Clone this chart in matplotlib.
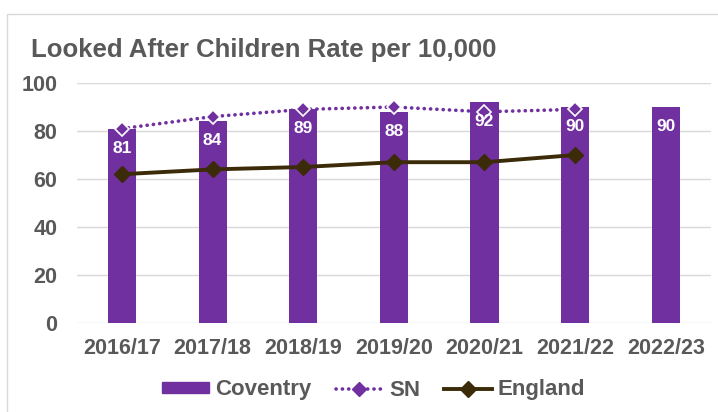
import matplotlib
matplotlib.use("Agg")
import matplotlib.pyplot as plt
from matplotlib.patches import Rectangle
from matplotlib.lines import Line2D
import numpy as np

plt.rcParams['font.family'] = ['Liberation Sans', 'DejaVu Sans']

years = ["2016/17", "2017/18", "2018/19", "2019/20", "2020/21", "2021/22", "2022/23"]
coventry = [81, 84, 89, 88, 92, 90, 90]
sn = [81, 86, 89, 90, 88, 89]
england = [62, 64, 65, 67, 67, 70]

title = "Looked After Children Rate per 10,000"
gray = "#595959"
purple = "#7030A0"
dark = "#3B2B08"

W, H = 718, 412
fig = plt.figure(figsize=(W / 100, H / 100), dpi=100)

# outer chart border (cropped on the right/bottom)
fig.patches.append(Rectangle((7 / W, -0.2), 1.2, 1.2 - 14 / H,
                             transform=fig.transFigure, fill=False,
                             edgecolor="#D9D9D9", linewidth=1.0, zorder=0))

left_px, right_px = 76.7, 711.0
top_px, bottom_px = 83.0, 323.0
ax = fig.add_axes([left_px / W, 1 - bottom_px / H,
                   (right_px - left_px) / W, (bottom_px - top_px) / H])

x = np.arange(len(years))
ax.bar(x, coventry, width=0.31, color=purple, zorder=2)

dot_style = (0, (0.05, 1.7))
xs = np.arange(len(sn))
ax.plot(xs, sn, linestyle=dot_style, linewidth=2.6, color=purple,
        dash_capstyle="round",
        marker="D", markersize=7.5, markerfacecolor=purple,
        markeredgecolor="white", markeredgewidth=1.2, zorder=4)
ax.plot(np.arange(len(england)), england, linestyle="-", linewidth=2.8,
        color=dark, marker="D", markersize=8, markerfacecolor=dark,
        markeredgecolor=dark, zorder=5)

for xi, v in zip(x, coventry):
    ax.annotate(f"{v}", (xi, v), xytext=(0, -14), textcoords="offset points",
                ha="center", va="center", color="white", fontsize=12.5,
                fontweight="bold", zorder=6)

ax.set_xlim(-0.5, len(years) - 0.5)
ax.set_ylim(0, 100)
ax.set_yticks([0, 20, 40, 60, 80, 100])
ax.set_xticks(x)
ax.set_xticklabels(years)
ax.grid(axis="y", color="#D9D9D9", linewidth=1.0, zorder=0)
ax.set_axisbelow(True)
for s in ax.spines.values():
    s.set_visible(False)
ax.tick_params(axis="both", length=0, labelsize=15.5, labelcolor=gray)
ax.tick_params(axis="y", pad=14)
ax.tick_params(axis="x", pad=11)
for lab in ax.get_xticklabels() + ax.get_yticklabels():
    lab.set_fontweight("bold")

fig.text(31 / W, 1 - 57 / H, title, fontsize=18.5, fontweight="bold",
         color=gray, ha="left", va="baseline")

handles = [
    Rectangle((0, 0), 1, 1, color=purple),
    Line2D([], [], linestyle=dot_style, linewidth=2.6, color=purple,
           dash_capstyle="round",
           marker="D", markersize=7, markerfacecolor=purple,
           markeredgecolor=purple),
    Line2D([], [], linestyle="-", linewidth=2.8, color=dark, marker="D",
           markersize=8, markerfacecolor=dark, markeredgecolor=dark),
]
leg = fig.legend(handles, ["Coventry", "SN", "England"], loc="center",
                 bbox_to_anchor=(0.52, 1 - 390 / H), ncol=3, frameon=False,
                 handlelength=2.15, handleheight=0.4, columnspacing=1.1,
                 handletextpad=0.25,
                 prop={"size": 16, "weight": "bold"})
for t in leg.get_texts():
    t.set_color(gray)

fig.savefig("out.png", dpi=100)
